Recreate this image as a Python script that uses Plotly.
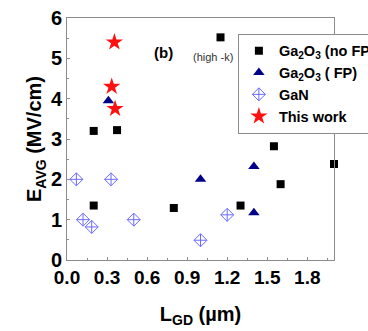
import plotly.graph_objects as go

# Average field vs gate-drain length, grouped by device type
nofp_x = [0.20, 0.375, 0.20, 0.80, 1.15, 1.30, 1.55, 1.60, 2.00]
nofp_y = [3.20, 3.22, 1.35, 1.29, 5.52, 1.35, 2.82, 1.88, 2.38]

fp_x = [0.31, 1.00, 1.40, 1.40]
fp_y = [3.95, 2.00, 2.32, 1.17]

gan_x = [0.07, 0.12, 0.185, 0.33, 0.50, 1.00, 1.20]
gan_y = [2.00, 1.00, 0.82, 2.00, 1.00, 0.49, 1.12]

work_x = [0.355, 0.335, 0.36]
work_y = [5.40, 4.30, 3.75]

x_ticks = [0.0, 0.3, 0.6, 0.9, 1.2, 1.5, 1.8]
y_ticks = [0, 1, 2, 3, 4, 5, 6]

fig = go.Figure()
fig.add_trace(go.Scatter(x=nofp_x, y=nofp_y, mode="markers",
                         name="<b>Ga<sub>2</sub>O<sub>3</sub> (no FP)</b>",
                         marker=dict(symbol="square", size=8, color="black"), cliponaxis=False))
fig.add_trace(go.Scatter(x=fp_x, y=fp_y, mode="markers",
                         name="<b>Ga<sub>2</sub>O<sub>3</sub> ( FP)</b>",
                         marker=dict(symbol="triangle-up", size=10, color="#000088"), cliponaxis=False))
fig.add_trace(go.Scatter(x=gan_x, y=gan_y, mode="markers", name="<b>GaN</b>",
                         marker=dict(symbol="diamond-cross-open", size=10, color="#6a6aff",
                                     line=dict(width=1)), cliponaxis=False))
fig.add_trace(go.Scatter(x=work_x, y=work_y, mode="markers", name="<b>This work</b>",
                         marker=dict(symbol="star", size=13, color="#ff1010"), cliponaxis=False))

axis_font = dict(family="Liberation Sans", size=20, color="black")
fig.update_xaxes(range=[0, 2.0], tickvals=x_ticks, ticktext=[f"<b>{v:.1f}</b>" for v in x_ticks],
                 showline=True, mirror=True, linecolor="#8c8c8c", linewidth=1,
                 ticks="inside", ticklen=3, tickcolor="#8c8c8c",
                 minor=dict(dtick=0.15, tick0=0, ticks="inside", ticklen=2, tickcolor="#8c8c8c"),
                 showgrid=False, zeroline=False,
                 tickfont=dict(family="Liberation Sans", size=19, color="black"),
                 title=dict(text="<b>L<sub>GD</sub> (µm)</b>", font=axis_font, standoff=20))
fig.update_yaxes(range=[0, 6], tickvals=y_ticks, ticktext=[f"<b>{v}</b>" for v in y_ticks],
                 showline=True, mirror=True, linecolor="#8c8c8c", linewidth=1,
                 ticks="inside", ticklen=3, tickcolor="#8c8c8c",
                 minor=dict(dtick=0.5, tick0=0, ticks="inside", ticklen=2, tickcolor="#8c8c8c"),
                 showgrid=False, zeroline=False,
                 tickfont=dict(family="Liberation Sans", size=20, color="black"),
                 title=dict(text="<b>E<sub>AVG</sub> (MV/cm)</b>", font=axis_font, standoff=3))

fig.add_annotation(x=0.72, y=5.14, text="<b>(b)</b>", showarrow=False,
                   font=dict(family="Liberation Sans", size=15, color="black"))
fig.add_annotation(x=1.09, y=5.04, text="(high -k)", showarrow=False,
                   font=dict(family="Liberation Sans", size=11, color="#333333"))

fig.update_layout(
    width=368, height=331,
    margin=dict(l=67, r=34, t=18, b=71, autoexpand=False),
    plot_bgcolor="white", paper_bgcolor="white",
    font=dict(family="Liberation Sans", color="black"),
    legend=dict(x=0.64, y=0.935, xanchor="left", yanchor="top",
                bgcolor="white", bordercolor="#8c8c8c", borderwidth=1,
                font=dict(family="Liberation Sans", size=14.5, color="black"),
                itemwidth=30, tracegroupgap=0),
)

fig.write_html("out.html")
